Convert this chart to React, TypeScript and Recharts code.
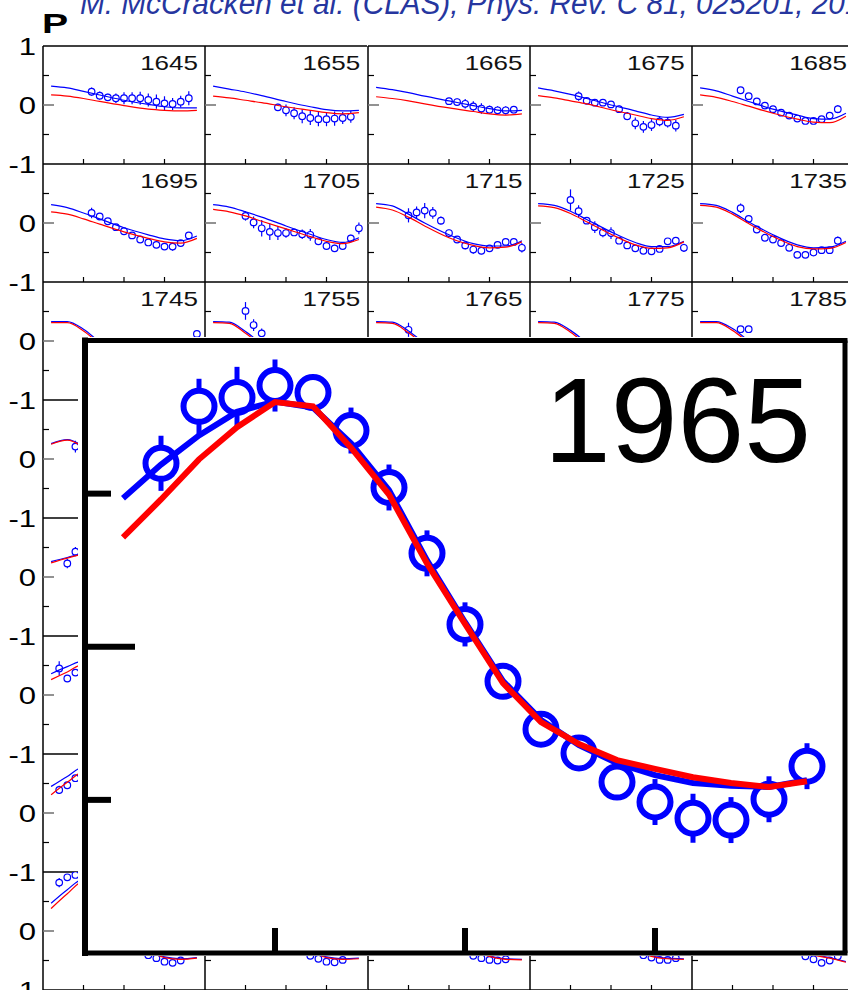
import React from "react";
import { ComposedChart, Line, Scatter, XAxis, YAxis, ErrorBar, ReferenceLine } from "recharts";

// cos(theta) grid the model curves are read at
const curveCos = [-0.9, -0.7, -0.5, -0.3, 0, 0.3, 0.5, 0.7, 0.9];
const xTicks = [-0.5, 0, 0.5];
const yTicks = [-1, -0.5, 0, 0.5, 1];
const insetYTicks = [-0.5, 0, 0.5];

// W (MeV) of each small panel, row by row
const wRows = [
  [1645, 1655, 1665, 1675, 1685],
  [1695, 1705, 1715, 1725, 1735],
  [1745, 1755, 1765, 1775, 1785],
  [1795, 1805, 1815, 1825, 1835],
  [1845, 1855, 1865, 1875, 1885],
  [1895, 1905, 1915, 1925, 1935],
  [1945, 1955, 1965, 1975, 1985],
  [1995, 2005, 2015, 2025, 2035],
];

const blueRow1 = [
  [0.32, 0.29, 0.23, 0.17, 0.08, 0.01, -0.03, -0.05, -0.05],
  [0.32, 0.27, 0.22, 0.16, 0.06, -0.03, -0.08, -0.1, -0.09],
  [0.3, 0.26, 0.21, 0.15, 0.07, -0.01, -0.06, -0.1, -0.09],
  [0.29, 0.24, 0.18, 0.11, 0.0, -0.1, -0.17, -0.21, -0.16],
  [0.29, 0.24, 0.15, 0.06, -0.07, -0.17, -0.23, -0.24, -0.14],
];
const redRow1 = [
  [0.17, 0.15, 0.11, 0.06, -0.01, -0.07, -0.09, -0.1, -0.09],
  [0.15, 0.12, 0.08, 0.04, -0.03, -0.09, -0.13, -0.15, -0.13],
  [0.14, 0.11, 0.07, 0.02, -0.05, -0.11, -0.15, -0.17, -0.15],
  [0.16, 0.12, 0.07, 0.02, -0.08, -0.17, -0.23, -0.26, -0.2],
  [0.17, 0.13, 0.06, -0.02, -0.14, -0.24, -0.29, -0.3, -0.19],
];
const pointsRow1 = [
  [[-0.4, 0.225, 0.07], [-0.3, 0.158, 0.07], [-0.2, 0.13, 0.06], [-0.1, 0.114, 0.08], [0, 0.114, 0.1], [0.1, 0.114, 0.1], [0.2, 0.114, 0.11], [0.3, 0.085, 0.11], [0.4, 0.056, 0.12], [0.5, 0.028, 0.12], [0.6, 0.017, 0.1], [0.7, 0.056, 0.1], [0.8, 0.114, 0.12]],
  [[-0.1, -0.04, 0.06], [0, -0.09, 0.1], [0.1, -0.14, 0.1], [0.2, -0.19, 0.12], [0.3, -0.22, 0.12], [0.4, -0.24, 0.12], [0.5, -0.24, 0.12], [0.6, -0.23, 0.12], [0.7, -0.22, 0.1], [0.8, -0.2, 0.1]],
  [[0, 0.065, 0.06], [0.1, 0.05, 0.06], [0.2, 0.02, 0.08], [0.3, -0.025, 0.09], [0.4, -0.06, 0.09], [0.5, -0.08, 0.07], [0.6, -0.09, 0.07], [0.7, -0.09, 0.07], [0.8, -0.08, 0.06]],
  [[-0.4, 0.15, 0.08], [-0.3, 0.07, 0.05], [-0.2, 0.04, 0.05], [-0.1, 0.04, 0.05], [0, 0.01, 0.05], [0.1, -0.07, 0.06], [0.2, -0.19, 0.07], [0.3, -0.31, 0.1], [0.4, -0.37, 0.1], [0.5, -0.34, 0.1], [0.6, -0.28, 0.08], [0.7, -0.3, 0.08], [0.8, -0.35, 0.1]],
  [[-0.4, 0.25, 0.04], [-0.3, 0.15, 0.04], [-0.2, 0.06, 0.04], [-0.1, -0.01, 0.04], [0, -0.07, 0.04], [0.1, -0.13, 0.04], [0.2, -0.18, 0.04], [0.3, -0.23, 0.04], [0.4, -0.27, 0.04], [0.5, -0.27, 0.04], [0.6, -0.24, 0.04], [0.7, -0.18, 0.05], [0.8, -0.07, 0.07]],
];

const blueRow2 = [
  [0.31, 0.26, 0.17, 0.07, -0.08, -0.2, -0.27, -0.3, -0.22],
  [0.31, 0.27, 0.19, 0.1, -0.05, -0.19, -0.28, -0.33, -0.25],
  [0.33, 0.29, 0.15, 0.0, -0.2, -0.35, -0.39, -0.39, -0.3],
  [0.33, 0.3, 0.2, 0.06, -0.15, -0.33, -0.4, -0.4, -0.31],
  [0.33, 0.3, 0.18, 0.02, -0.2, -0.37, -0.42, -0.41, -0.31],
];
const redRow2 = [
  [0.19, 0.15, 0.07, -0.02, -0.15, -0.26, -0.32, -0.34, -0.26],
  [0.23, 0.19, 0.12, 0.03, -0.1, -0.23, -0.31, -0.35, -0.28],
  [0.27, 0.22, 0.1, -0.05, -0.25, -0.38, -0.42, -0.41, -0.32],
  [0.29, 0.26, 0.16, 0.02, -0.19, -0.37, -0.43, -0.42, -0.32],
  [0.3, 0.27, 0.15, -0.01, -0.23, -0.4, -0.44, -0.43, -0.33],
];
const pointsRow2 = [
  [[-0.4, 0.17, 0.09], [-0.3, 0.11, 0.06], [-0.2, 0.03, 0.05], [-0.1, -0.07, 0.05], [0, -0.14, 0.04], [0.1, -0.21, 0.04], [0.2, -0.28, 0.04], [0.3, -0.33, 0.04], [0.4, -0.37, 0.04], [0.5, -0.4, 0.04], [0.6, -0.4, 0.07], [0.7, -0.34, 0.05], [0.8, -0.21, 0.05]],
  [[-0.5, 0.12, 0.08], [-0.4, 0.01, 0.1], [-0.3, -0.09, 0.14], [-0.2, -0.15, 0.14], [-0.1, -0.17, 0.12], [0, -0.17, 0.08], [0.1, -0.16, 0.06], [0.2, -0.19, 0.08], [0.3, -0.2, 0.1], [0.4, -0.31, 0.06], [0.5, -0.39, 0.05], [0.6, -0.43, 0.06], [0.7, -0.39, 0.05], [0.8, -0.26, 0.06], [0.9, -0.09, 0.1]],
  [[-0.5, 0.13, 0.12], [-0.4, 0.18, 0.1], [-0.3, 0.21, 0.13], [-0.2, 0.17, 0.1], [-0.1, 0.04, 0.07], [0, -0.17, 0.06], [0.1, -0.28, 0.06], [0.2, -0.38, 0.07], [0.3, -0.45, 0.07], [0.4, -0.47, 0.06], [0.5, -0.43, 0.05], [0.6, -0.37, 0.05], [0.7, -0.32, 0.05], [0.8, -0.32, 0.05], [0.9, -0.42, 0.08]],
  [[-0.5, 0.39, 0.18], [-0.4, 0.2, 0.1], [-0.3, 0.04, 0.05], [-0.2, -0.07, 0.1], [-0.1, -0.16, 0.08], [0, -0.17, 0.1], [0.1, -0.3, 0.05], [0.2, -0.38, 0.04], [0.3, -0.43, 0.04], [0.4, -0.47, 0.04], [0.5, -0.48, 0.04], [0.6, -0.44, 0.05], [0.7, -0.31, 0.05], [0.8, -0.3, 0.05], [0.9, -0.42, 0.07]],
  [[-0.4, 0.25, 0.08], [-0.3, 0.07, 0.06], [-0.2, -0.11, 0.04], [-0.1, -0.25, 0.04], [0, -0.28, 0.04], [0.1, -0.34, 0.04], [0.2, -0.42, 0.04], [0.3, -0.54, 0.04], [0.4, -0.54, 0.04], [0.5, -0.5, 0.04], [0.6, -0.46, 0.04], [0.7, -0.46, 0.04], [0.8, -0.3, 0.07]],
];

const blueRow3 = [
  [0.33, 0.33, 0.2, -0.02, -0.33, -0.5, -0.5, -0.38, -0.15],
  [0.33, 0.32, 0.16, -0.05, -0.36, -0.52, -0.5, -0.38, -0.15],
  [0.33, 0.32, 0.17, -0.04, -0.35, -0.52, -0.5, -0.38, -0.15],
  [0.33, 0.32, 0.18, -0.03, -0.35, -0.52, -0.5, -0.38, -0.15],
  [0.33, 0.33, 0.21, 0.0, -0.32, -0.5, -0.5, -0.38, -0.15],
];
const redRow3 = [
  [0.31, 0.31, 0.17, -0.05, -0.36, -0.52, -0.52, -0.4, -0.17],
  [0.31, 0.3, 0.13, -0.08, -0.38, -0.53, -0.52, -0.4, -0.17],
  [0.31, 0.3, 0.14, -0.07, -0.37, -0.53, -0.52, -0.4, -0.17],
  [0.31, 0.3, 0.15, -0.06, -0.37, -0.53, -0.52, -0.4, -0.17],
  [0.31, 0.31, 0.18, -0.03, -0.35, -0.52, -0.52, -0.4, -0.17],
];
const pointsRow3 = [
  [[0.9, 0.12, 0.06]],
  [[-0.5, 0.51, 0.15], [-0.4, 0.27, 0.1], [-0.3, 0.13, 0.08]],
  [[-0.5, 0.19, 0.12]],
  [],
  [[-0.4, 0.2, 0.05], [-0.3, 0.2, 0.05]],
];

const blueRow4 = [[0.26, 0.33, 0.22, 0.02, -0.3, -0.5, -0.5, -0.35, -0.1], null, null, null, null];
const redRow4 = [[0.25, 0.32, 0.2, 0.0, -0.32, -0.52, -0.52, -0.37, -0.12], null, null, null, null];
const pointsRow4 = [[[-0.6, 0.21, 0.1]], null, null, null, null];

const blueRow5 = [[0.26, 0.33, 0.39, 0.3, 0.0, -0.3, -0.45, -0.45, -0.2], null, null, null, null];
const redRow5 = [[0.24, 0.32, 0.38, 0.29, -0.01, -0.31, -0.46, -0.46, -0.21], null, null, null, null];
const pointsRow5 = [[[-0.7, 0.23, 0.08], [-0.6, 0.43, 0.08]], null, null, null, null];

const blueRow6 = [[0.36, 0.48, 0.58, 0.55, 0.3, -0.1, -0.35, -0.45, -0.3], null, null, null, null];
const redRow6 = [[0.26, 0.39, 0.52, 0.52, 0.28, -0.12, -0.37, -0.46, -0.31], null, null, null, null];
const pointsRow6 = [[[-0.8, 0.45, 0.12], [-0.7, 0.28, 0.06], [-0.6, 0.38, 0.05]], null, null, null, null];

const blueRow7 = [[0.45, 0.62, 0.78, 0.78, 0.4, -0.15, -0.4, -0.45, -0.4], null, null, null, null];
const redRow7 = [[0.31, 0.52, 0.71, 0.75, 0.42, -0.14, -0.4, -0.45, -0.42], null, null, null, null];
const pointsRow7 = [[[-0.8, 0.39, 0.07], [-0.7, 0.47, 0.05], [-0.6, 0.59, 0.05]], null, null, null, null];

const blueRow8 = [
  [0.47, 0.7, 0.88, 0.8, 0.2, -0.3, -0.44, -0.47, -0.45],
  [0.45, 0.68, 0.86, 0.78, 0.2, -0.3, -0.44, -0.47, -0.46],
  [0.45, 0.68, 0.86, 0.78, 0.2, -0.3, -0.42, -0.47, -0.48],
  [0.45, 0.68, 0.86, 0.78, 0.2, -0.3, -0.42, -0.46, -0.47],
  [0.45, 0.68, 0.86, 0.78, 0.2, -0.3, -0.4, -0.45, -0.52],
];
const redRow8 = [
  [0.38, 0.63, 0.84, 0.8, 0.2, -0.32, -0.45, -0.48, -0.46],
  [0.36, 0.6, 0.82, 0.78, 0.18, -0.32, -0.45, -0.48, -0.47],
  [0.36, 0.6, 0.82, 0.78, 0.18, -0.32, -0.43, -0.48, -0.49],
  [0.36, 0.6, 0.82, 0.78, 0.18, -0.32, -0.43, -0.47, -0.48],
  [0.36, 0.6, 0.82, 0.78, 0.18, -0.32, -0.41, -0.46, -0.53],
];
const pointsRow8 = [
  [[-0.8, 0.82, 0.08], [-0.7, 0.91, 0.05], [-0.6, 0.95, 0.05], [0.3, -0.41, 0.04], [0.4, -0.46, 0.04], [0.5, -0.52, 0.04], [0.6, -0.54, 0.04], [0.7, -0.5, 0.04]],
  [[0.3, -0.42, 0.04], [0.4, -0.47, 0.04], [0.5, -0.52, 0.04], [0.6, -0.53, 0.04], [0.7, -0.49, 0.04]],
  [[0.3, -0.42, 0.04], [0.4, -0.46, 0.04], [0.5, -0.49, 0.04], [0.6, -0.5, 0.04], [0.7, -0.48, 0.04]],
  [[0.4, -0.41, 0.04], [0.5, -0.45, 0.04], [0.6, -0.49, 0.04], [0.7, -0.49, 0.04], [0.8, -0.46, 0.04]],
  [[0.4, -0.43, 0.04], [0.5, -0.48, 0.04], [0.6, -0.54, 0.04], [0.7, -0.5, 0.04], [0.8, -0.43, 0.04]],
];

// enlarged panel, W = 1965
const insetCos = [-0.9, -0.8, -0.7, -0.6, -0.5, -0.4, -0.3, -0.2, -0.1, 0, 0.1, 0.2, 0.3, 0.4, 0.5, 0.6, 0.7, 0.8, 0.9];
const blue1965 = [0.485, 0.595, 0.69, 0.767, 0.801, 0.781, 0.664, 0.511, 0.282, 0.08, -0.112, -0.239, -0.321, -0.38, -0.419, -0.445, -0.454, -0.458, -0.436];
const red1965 = [0.357, 0.481, 0.612, 0.717, 0.799, 0.785, 0.65, 0.497, 0.272, 0.075, -0.119, -0.246, -0.318, -0.37, -0.399, -0.426, -0.445, -0.458, -0.439];
const points1965 = [
  [-0.8, 0.599, 0.09], [-0.7, 0.785, 0.09], [-0.6, 0.814, 0.1], [-0.5, 0.853, 0.085], [-0.4, 0.83, 0.05],
  [-0.3, 0.706, 0.075], [-0.2, 0.52, 0.075], [-0.1, 0.305, 0.075], [0, 0.073, 0.072], [0.1, -0.113, 0.05],
  [0.2, -0.269, 0.05], [0.3, -0.347, 0.05], [0.4, -0.442, 0.05], [0.5, -0.507, 0.075], [0.6, -0.56, 0.08],
  [0.7, -0.566, 0.075], [0.8, -0.498, 0.075], [0.9, -0.39, 0.075],
];

const blueRows = [blueRow1, blueRow2, blueRow3, blueRow4, blueRow5, blueRow6, blueRow7, blueRow8];
const redRows = [redRow1, redRow2, redRow3, redRow4, redRow5, redRow6, redRow7, redRow8];
const pointRows = [pointsRow1, pointsRow2, pointsRow3, pointsRow4, pointsRow5, pointsRow6, pointsRow7, pointsRow8];

const FONT = "'Liberation Sans', Arial, Helvetica, sans-serif";
const BLUE = "#0000ff";
const RED = "#ff0000";
const panelLeft = (c: number) => 43 + 162.25 * c;
const rowTop = (r: number) => 46 + 118 * r;

const toCurve = (xs: number[], ys: number[]) => xs.map((x, i) => ({ x, y: ys[i] }));
const toPoints = (pts: number[][]) => pts.map(([x, y, err]) => ({ x, y, err }));

const smallXTick = (p: any) => (
  <line x1={p.x} x2={p.x} y1={p.y} y2={p.y - 5} stroke="#000" strokeWidth={1.2} />
);

const makeSmallYTick = (showLabels: boolean, row: number) => (p: any) => {
  const v = p.payload.value;
  const len = v === 0 ? 11 : Math.abs(v) === 0.5 ? 6 : 0;
  const showText = showLabels && (v === 0 || v === -1 || (v === 1 && row === 0));
  return (
    <g>
      {len > 0 && (
        <line x1={p.x} x2={p.x + len} y1={p.y} y2={p.y} stroke={v === 0 ? "#777" : "#000"} strokeWidth={v === 0 ? 1.6 : 1.2} />
      )}
      {showText && (
        <text transform={`translate(${p.x - 7},${p.y + 9}) scale(1.35,1)`} textAnchor="end" fontSize={23} fontFamily={FONT} fill="#000">
          {String(v)}
        </text>
      )}
    </g>
  );
};

const smallDot = (p: any) => <circle cx={p.cx} cy={p.cy} r={3.3} fill="#fff" stroke={BLUE} strokeWidth={1.2} />;

function Panel({ row, col }: { row: number; col: number }) {
  const blue = blueRows[row][col];
  const red = redRows[row][col];
  const pts = pointRows[row][col];
  return (
    <div style={{ position: "absolute", left: panelLeft(col) - 43, top: rowTop(row) - 10 }}>
      <ComposedChart width={205} height={138} margin={{ top: 10, right: 0, bottom: 9, left: 0 }}>
        <XAxis type="number" dataKey="x" domain={[-1, 1]} ticks={xTicks} interval={0} height={1} allowDataOverflow
          axisLine={{ stroke: "#000", strokeWidth: 1.5 }} tickLine={false} tickSize={0} tickMargin={0} tick={smallXTick} />
        <YAxis type="number" dataKey="y" domain={[-1, 1]} ticks={yTicks} interval={0} width={43} allowDataOverflow
          axisLine={{ stroke: "#000", strokeWidth: 1.5 }} tickLine={false} tickSize={0} tickMargin={0}
          tick={makeSmallYTick(col === 0, row)} />
        {row === 0 && <ReferenceLine y={1} stroke="#000" strokeWidth={1.5} />}
        {pts && pts.length > 0 && (
          <Scatter data={toPoints(pts)} shape={smallDot} isAnimationActive={false}>
            <ErrorBar dataKey="err" direction="y" width={0} stroke={BLUE} strokeWidth={1.2} />
          </Scatter>
        )}
        {blue && (
          <Line data={toCurve(curveCos, blue)} dataKey="y" type="monotone" stroke={BLUE} strokeWidth={1.2}
            dot={false} activeDot={false} isAnimationActive={false} zIndex={700} />
        )}
        {red && (
          <Line data={toCurve(curveCos, red)} dataKey="y" type="monotone" stroke={RED} strokeWidth={1.2}
            dot={false} activeDot={false} isAnimationActive={false} zIndex={710} />
        )}
      </ComposedChart>
    </div>
  );
}

const insetBottomTick = (p: any) => (
  <line x1={p.x} x2={p.x} y1={p.y} y2={p.y - 25} stroke="#000" strokeWidth={6} />
);
const insetTopTick = (p: any) => (
  <line x1={p.x} x2={p.x} y1={p.y} y2={p.y - 5} stroke="#000" strokeWidth={6} />
);
const insetLeftTick = (p: any) => {
  const len = p.payload.value === 0 ? 50 : 26;
  return <line x1={p.x} x2={p.x + len} y1={p.y} y2={p.y} stroke="#000" strokeWidth={6} />;
};
const insetDot = (p: any) => <circle cx={p.cx} cy={p.cy} r={15.5} fill="#fff" stroke={BLUE} strokeWidth={6} />;

function Inset() {
  return (
    <>
      <div style={{ position: "absolute", left: 78, top: 337, width: 770, height: 619, background: "#fff" }} />
      <div style={{ position: "absolute", left: 78, top: 330 }}>
        <ComposedChart width={770} height={626} margin={{ top: 9.5, right: 2, bottom: 2, left: 6 }}>
          <XAxis type="number" dataKey="x" domain={[-1, 1]} ticks={xTicks} interval={0} height={1} allowDataOverflow
            axisLine={{ stroke: "#000", strokeWidth: 5, strokeLinecap: "square" }} tickLine={false} tickSize={0} tickMargin={0}
            tick={insetBottomTick} />
          <XAxis xAxisId="top" orientation="top" type="number" domain={[-1, 1]} ticks={xTicks} interval={0} height={1}
            allowDataOverflow axisLine={{ stroke: "#000", strokeWidth: 5, strokeLinecap: "square" }} tickLine={false}
            tickSize={0} tickMargin={0} tick={insetTopTick} />
          <YAxis type="number" dataKey="y" domain={[-1, 1]} ticks={insetYTicks} interval={0} width={1} allowDataOverflow
            axisLine={{ stroke: "#000", strokeWidth: 6, strokeLinecap: "square" }} tickLine={false} tickSize={0} tickMargin={0}
            tick={insetLeftTick} />
          <YAxis yAxisId="right" orientation="right" type="number" domain={[-1, 1]} ticks={insetYTicks} width={1}
            allowDataOverflow axisLine={{ stroke: "#000", strokeWidth: 5 }} tickLine={false} tickSize={0}
            tick={() => <g />} />
          <Scatter data={toPoints(points1965)} shape={insetDot} isAnimationActive={false}>
            <ErrorBar dataKey="err" direction="y" width={0} stroke={BLUE} strokeWidth={5} />
          </Scatter>
          <Line data={toCurve(insetCos, blue1965)} dataKey="y" type="linear" stroke={BLUE} strokeWidth={6}
            dot={false} activeDot={false} isAnimationActive={false} zIndex={700} />
          <Line data={toCurve(insetCos, red1965)} dataKey="y" type="linear" stroke={RED} strokeWidth={6}
            dot={false} activeDot={false} isAnimationActive={false} zIndex={710} />
        </ComposedChart>
      </div>
    </>
  );
}

export default function App() {
  const cells: { r: number; c: number }[] = [];
  wRows.forEach((row, r) => row.forEach((_, c) => cells.push({ r, c })));
  return (
    <div style={{ position: "absolute", left: 0, top: 0, width: 848, height: 990, overflow: "hidden", background: "#fff", fontFamily: FONT }}>
      {cells.map(({ r, c }) => (
        <Panel key={`${r}-${c}`} row={r} col={c} />
      ))}
      <svg width={848} height={990} style={{ position: "absolute", left: 0, top: 0 }}>
        {cells.map(({ r, c }) => (
          <text key={`w${r}-${c}`} transform={`translate(${panelLeft(c) + 155},${rowTop(r) + 23.5}) scale(1.3,1)`}
            textAnchor="end" fontSize={20} fontFamily={FONT} fill="#111">
            {wRows[r][c]}
          </text>
        ))}
      </svg>
      <Inset />
      <svg width={848} height={990} style={{ position: "absolute", left: 0, top: 0 }}>
        <text x={811} y={462} textAnchor="end" fontSize={120} fontFamily={FONT} fill="#000">1965</text>
        <text transform="translate(42,33) scale(1.4,1)" fontSize={28} fontWeight="bold" fontFamily={FONT} fill="#000">P</text>
        <text x={80} y={14} fontSize={31} fontStyle="italic" fontFamily={FONT} fill="#26369f" textLength={798}
          lengthAdjust="spacingAndGlyphs">
          M. McCracken et al. (CLAS), Phys. Rev. C 81, 025201, 2010
        </text>
      </svg>
    </div>
  );
}
